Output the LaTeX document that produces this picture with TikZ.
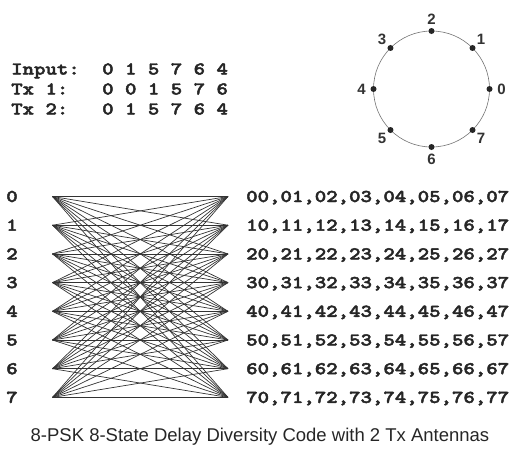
\documentclass[tikz,border=0pt]{standalone}
\usepackage{fontspec}
\usetikzlibrary{calc}
\newfontfamily\codefont{lmmonolt10-bold}[Extension=.otf, FakeStretch=1.21, FakeBold=2.5]
\newfontfamily\sansfont{Liberation Sans}
\tikzset{
  code/.style={font=\codefont\fontsize{18}{18}\selectfont, inner sep=0pt, text=black!85},
  pointlbl/.style={font=\sansfont\bfseries\fontsize{15}{15}\selectfont, inner sep=0pt, text=black!80},
  branch/.style={draw=black!80, line width=0.7pt},
  dot/.style={circle, fill=black!85, inner sep=0pt, minimum size=6pt},
}
\begin{document}
\begin{tikzpicture}[x=1pt, y=-1pt]
\useasboundingbox (0,0) rectangle (513,451);

% input / transmitted sequences
\node[code, anchor=base west] (inlbl) at (11,74.5) {Input:};
\node[code, anchor=base west] (inseq) at (102,74.5) {0 1 5 7 6 4};
\node[code, anchor=base west] (t1lbl) at (11,94.5) {Tx 1:};
\node[code, anchor=base west] (t1seq) at (102,94.5) {0 0 1 5 7 6};
\node[code, anchor=base west] (t2lbl) at (11,114.5) {Tx 2:};
\node[code, anchor=base west] (t2seq) at (102,114.5) {0 1 5 7 6 4};

% 8-PSK constellation
\coordinate (c) at (431.5,89);
\draw[black!55, line width=0.6pt] (c) circle[radius=58];
\foreach \k in {0,...,7} {
  \node[dot] (p\k) at ($(c)+({\k*45}:58 and -58)$) {};
  \node[pointlbl] (l\k) at ($(c)+({\k*45}:70 and -70)$) {\k};
}

% trellis states
\foreach \i in {0,...,7} {
  \coordinate (s\i) at (52.5,{196.5+28.7*\i});
  \coordinate (e\i) at (228,{196.5+28.7*\i});
  \node[code, anchor=base] (st\i) at (12,{196.5+28.7*\i+5.5}) {\i};
  \node[code, anchor=base west] (out\i) at (246,{196.5+28.7*\i+5.5})
    {\i0,\i1,\i2,\i3,\i4,\i5,\i6,\i7};
}
\foreach \i in {0,...,7} {
  \foreach \j in {0,...,7} {
    \draw[branch] (s\i) -- (e\j);
  }
}

% caption
\node[font=\sansfont\fontsize{18.5}{18.5}\selectfont, inner sep=0pt, anchor=base, text=black!85]
  (cap) at (260,441) {8-PSK 8-State Delay Diversity Code with 2 Tx Antennas};
\end{tikzpicture}
\end{document}
